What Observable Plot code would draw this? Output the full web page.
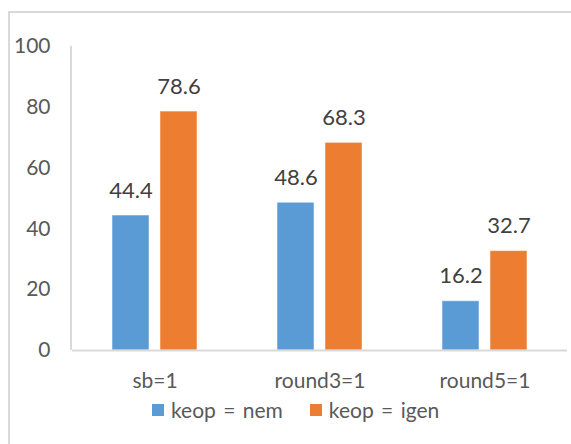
<!DOCTYPE html>
<html>
<head>
<meta charset="utf-8">
<script src="https://cdn.jsdelivr.net/npm/d3@7"></script>
<script src="https://cdn.jsdelivr.net/npm/@observablehq/plot@0.6"></script>
<style>
  html, body { margin: 0; padding: 0; background: #fff; }
  #wrap { position: relative; width: 571px; height: 444px; overflow: hidden; font-family: Lato, "Open Sans", sans-serif; }
  #border { position: absolute; left: 8px; top: 11px; width: 700px; height: 600px; border: 2px solid #d9d9d9; box-sizing: border-box; }
  #chart { position: absolute; left: 0; top: 0; }
  #legend { position: absolute; left: 152px; top: 397px; display: flex; align-items: center; font-size: 21px; color: #595959; white-space: nowrap; word-spacing: 2px; }
  .sw { display: inline-block; width: 12px; height: 12px; margin-right: 7px; }
  .item { display: flex; align-items: center; margin-right: 27px; }
</style>
</head>
<body>
<div id="wrap">
  <div id="border"></div>
  <div id="chart"></div>
  <div id="legend"></div>
</div>
<script>
const categories = ["sb=1", "round3=1", "round5=1"];
const series = ["keop = nem", "keop = igen"];
const nemValues = [44.4, 48.6, 16.2];
const igenValues = [78.6, 68.3, 32.7];
const yTicks = [0, 20, 40, 60, 80, 100];
const colors = ["#5B9BD5", "#ED7D31"];

const data = [];
categories.forEach((c, i) => {
  data.push({cat: c, s: series[0], v: nemValues[i]});
  data.push({cat: c, s: series[1], v: igenValues[i]});
});

const textColor = "#595959";
const labelColor = "#404040";
const chart = Plot.plot({
  width: 571,
  height: 395,
  marginLeft: 71,
  marginRight: 4,
  marginTop: 46,
  marginBottom: 45,
  style: {fontFamily: "Lato, 'Open Sans', sans-serif", fontSize: "21px", color: textColor, background: "transparent"},
  fx: {domain: categories, paddingInner: 0, paddingOuter: 0, label: null},
  x: {domain: series, paddingInner: 0.229, paddingOuter: 0.833, axis: null},
  y: {domain: [0, 100], axis: null},
  color: {domain: series, range: colors},
  marks: [
    Plot.axisY({ticks: yTicks, tickSize: 0, tickPadding: 22, label: null, fontSize: 21, color: textColor}),
    Plot.axisFx({anchor: "bottom", tickSize: 0, tickPadding: 23, label: null, fontSize: 21, color: textColor}),
    Plot.barY(data, {fx: "cat", x: "s", y: "v", fill: "s", stroke: "#ffffff", strokeOpacity: 0.5, strokeWidth: 1}),
    Plot.ruleY([0], {stroke: "#d9d9d9", strokeWidth: 2}),
    Plot.text(data, {fx: "cat", x: "s", y: "v", text: d => d.v.toFixed(1), lineAnchor: "bottom", dy: -18, fontSize: 22, fill: labelColor})
  ]
});
document.getElementById("chart").appendChild(chart);

// vertical axis line along the left edge, from the chart's own y scale
const ys = chart.scale("y");
d3.select(chart).append("line")
  .attr("x1", 71).attr("x2", 71)
  .attr("y1", ys.apply(0)).attr("y2", ys.apply(100))
  .attr("stroke", "#d9d9d9").attr("stroke-width", 2);

const legend = d3.select("#legend");
series.forEach((s, i) => {
  const it = legend.append("div").attr("class", "item");
  it.append("span").attr("class", "sw").style("background", colors[i]);
  it.append("span").text(s);
});
</script>
</body>
</html>
